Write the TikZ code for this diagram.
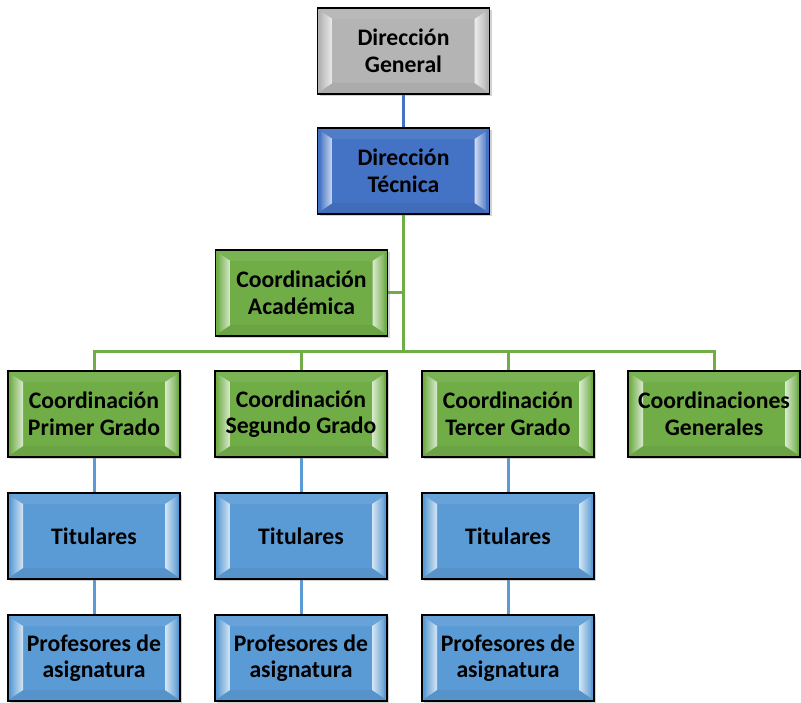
\documentclass[tikz,border=0pt]{standalone}
\usepackage{fontspec}
\setmainfont{Carlito}
\usetikzlibrary{shadows,backgrounds}
\definecolor{cgray}{HTML}{B4B4B4}
\definecolor{cdblue}{HTML}{4472C4}
\definecolor{cgreen}{HTML}{70AD47}
\definecolor{cblue}{HTML}{5B9BD5}
\newcommand\orgfont{\bfseries\fontsize{23.7}{26.5}\selectfont}
\tikzset{
  bev/.style={fill=#1, draw=black, line width=1.6pt,
    minimum width=172pt, minimum height=86pt, inner sep=1pt,
    align=center, font=\orgfont, text=black,
    drop shadow={shadow xshift=2pt, shadow yshift=-2pt, opacity=0.35},
    path picture={
      \coordinate (NW) at (path picture bounding box.north west);
      \coordinate (NE) at (path picture bounding box.north east);
      \coordinate (SW) at (path picture bounding box.south west);
      \coordinate (SE) at (path picture bounding box.south east);
      \fill[#1!93!white] (NW) -- (NE) -- ([shift={(-15pt,-11pt)}]NE) -- ([shift={(15pt,-11pt)}]NW) -- cycle;
      \fill[#1!95!black] (SW) -- (SE) -- ([shift={(-15pt,11pt)}]SE) -- ([shift={(15pt,11pt)}]SW) -- cycle;
      \shade[left color=#1!92!white, right color=#1!25!white] ([shift={(3pt,-3pt)}]NW) -- ([shift={(3pt,3pt)}]SW) -- ([shift={(15pt,11pt)}]SW) -- ([shift={(15pt,-11pt)}]NW) -- cycle;
      \shade[right color=#1!92!white, left color=#1!25!white] ([shift={(-3pt,-3pt)}]NE) -- ([shift={(-3pt,3pt)}]SE) -- ([shift={(-15pt,11pt)}]SE) -- ([shift={(-15pt,-11pt)}]NE) -- cycle;
    }},
  gline/.style={draw=cgreen, line width=3pt},
  bline/.style={draw=cblue, line width=3pt},
  dbline/.style={draw=cdblue, line width=3pt}
}
\begin{document}
\begin{tikzpicture}[x=1pt,y=-1pt]
\useasboundingbox (0,0) rectangle (801,703);
\node[bev=cgray] (dg) at (403.5,51) {Dirección\\General};
\node[bev=cdblue] (dt) at (403.5,171) {Dirección\\Técnica};
\node[bev=cgreen] (ca) at (301.5,293) {Coordinación\\Académica};
\node[bev=cgreen] (c1) at (94,414) {Coordinación\\Primer Grado};
\node[bev=cgreen] (c2) at (301,414) {Coordinación\\Segundo Grado};
\node[bev=cgreen] (c3) at (508,414) {Coordinación\\Tercer Grado};
\node[bev=cgreen] (c4) at (714,414) {Coordinaciones\\Generales};
\node[bev=cblue] (t1) at (94,536) {Titulares};
\node[bev=cblue] (t2) at (301,536) {Titulares};
\node[bev=cblue] (t3) at (508,536) {Titulares};
\node[bev=cblue] (p1) at (94,658) {Profesores de\\asignatura};
\node[bev=cblue] (p2) at (301,658) {Profesores de\\asignatura};
\node[bev=cblue] (p3) at (508,658) {Profesores de\\asignatura};
\coordinate (bus) at (403.5,352);
\begin{scope}[on background layer]
\fill[white] (0,0) rectangle (801,703);
\draw[dbline] (dg.south) -- (dt.north);
\draw[gline] (dt.south) -- (bus);
\draw[gline] (ca.east) -- (ca.east -| bus);
\draw[gline] (c1.north) -- (c1.north |- bus) -- (c4.north |- bus) -- (c4.north);
\draw[gline] (c2.north) -- (c2.north |- bus);
\draw[gline] (c3.north) -- (c3.north |- bus);
\draw[bline] (c1.south) -- (t1.north);
\draw[bline] (c2.south) -- (t2.north);
\draw[bline] (c3.south) -- (t3.north);
\draw[bline] (t1.south) -- (p1.north);
\draw[bline] (t2.south) -- (p2.north);
\draw[bline] (t3.south) -- (p3.north);
\end{scope}
\end{tikzpicture}
\end{document}
